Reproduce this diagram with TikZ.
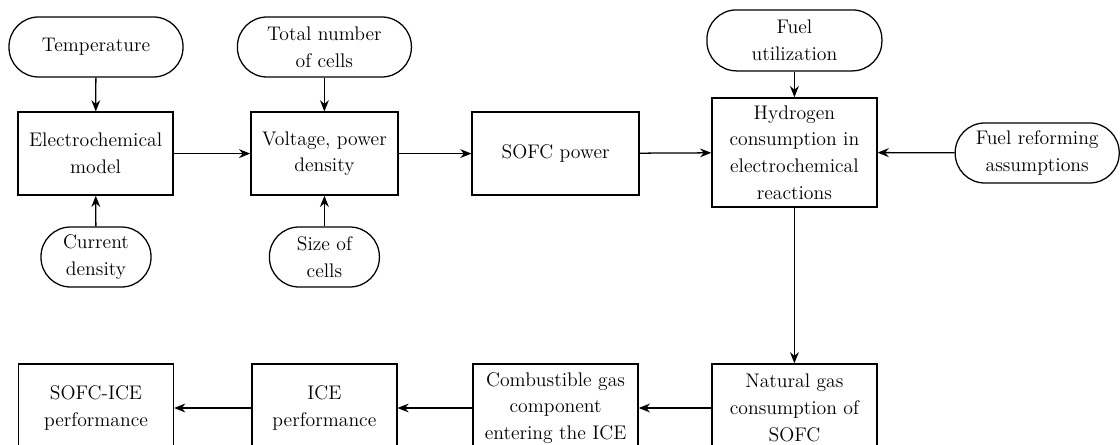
\documentclass[tikz,border=0pt]{standalone}
\usetikzlibrary{arrows.meta}

\begin{document}
\begin{tikzpicture}[
		font=\fontsize{14}{19}\selectfont,
		box/.style={draw, line width=0.9pt, align=center, inner sep=2pt, minimum height=2.075cm},
		term/.style={draw, line width=0.9pt, align=center, rounded corners=0.74cm, minimum height=1.5cm},
		arr/.style={-{Stealth[length=2.8mm,width=2.2mm]}, line width=0.9pt}]
		\useasboundingbox (0,0) rectangle (28,-11.125);
		\clip (0,0) rectangle (28,-11.125);

		% inputs
		\node[term, minimum width=4.35cm] (temp) at (2.4,-1.175) {Temperature};
		\node[term, minimum width=2.75cm] (curr) at (2.4,-6.425) {Current\\density};
		\node[term, minimum width=4.35cm] (total) at (8.11,-1.175) {Total number\\of cells};
		\node[term, minimum width=2.75cm] (size) at (8.11,-6.425) {Size of\\cells};
		\node[term, minimum width=4.375cm, minimum height=1.525cm] (fuelu) at (19.86,-1.01) {Fuel\\utilization};
		\node[term, minimum width=4.1cm] (reform) at (25.93,-3.825) {Fuel reforming\\assumptions};

		% top row
		\node[box, minimum width=3.875cm] (elec) at (2.39,-3.84) {Electrochemical\\model};
		\node[box, minimum width=3.675cm] (volt) at (8.11,-3.84) {Voltage, power\\density};
		\node[box, minimum width=4.175cm] (power) at (13.89,-3.84) {SOFC power};
		\node[box, minimum width=4.125cm, minimum height=2.725cm] (hydro) at (19.86,-3.81) {Hydrogen\\consumption in\\electrochemical\\reactions};

		% bottom row
		\node[box, minimum width=4.125cm, minimum height=2.2cm] (natgas) at (19.86,-10.2) {Natural gas\\consumption of\\SOFC};
		\node[box, minimum width=4.125cm, minimum height=2.2cm] (comb) at (13.89,-10.2) {Combustible gas\\component\\entering the ICE};
		\node[box, minimum width=3.625cm, minimum height=2.2cm] (ice) at (8.11,-10.2) {ICE\\performance};
		\node[box, minimum width=3.875cm, minimum height=2.2cm] (sofcice) at (2.4,-10.2) {SOFC-ICE\\performance};

		\draw[arr] (temp) -- (elec);
		\draw[arr] (curr) -- (elec);
		\draw[arr] (total) -- (volt);
		\draw[arr] (size) -- (volt);
		\draw[arr] (elec) -- (volt);
		\draw[arr] (volt) -- (power);
		\draw[arr] (power) -- (hydro);
		\draw[arr] (fuelu) -- (hydro);
		\draw[arr] (reform) -- (hydro);
		\draw[arr] (hydro) -- (natgas);
		\draw[arr] (natgas) -- (comb);
		\draw[arr] (comb) -- (ice);
		\draw[arr] (ice) -- (sofcice);
\end{tikzpicture}
\end{document}
